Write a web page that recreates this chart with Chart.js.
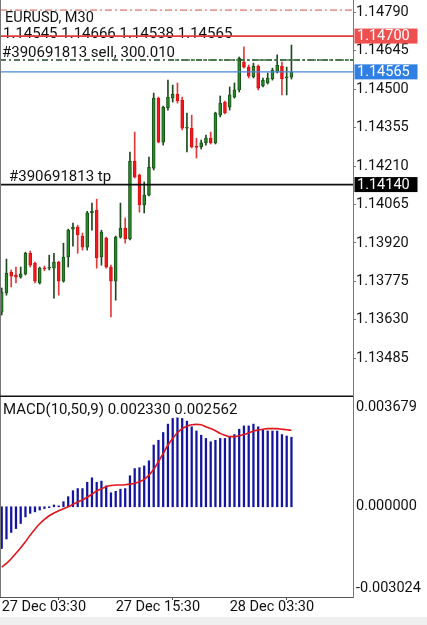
<!DOCTYPE html>
<html><head><meta charset="utf-8">
<script src="https://cdn.jsdelivr.net/npm/chart.js@4.4.1/dist/chart.umd.min.js"></script>
<style>
html,body{margin:0;padding:0;background:#fff;}
#wrap{position:relative;width:427px;height:625px;overflow:hidden;background:#fff;}
#c1{position:absolute;left:0;top:0;}
#c2{position:absolute;left:0;top:397px;}
#strip{position:absolute;left:0;top:617px;width:427px;height:8px;background:#efefef;}
</style></head><body>
<div id="wrap">
<canvas id="c1" width="427" height="397"></canvas>
<canvas id="c2" width="427" height="228"></canvas>
<div id="strip"></div>
</div>
<script>
// ---------- DATA ----------
const symbolTitle = "EURUSD, M30";
const orderText = "#390691813 sell, 300.010";
const tpText = "#390691813 tp";
const macdName = "MACD(10,50,9)";
const tickIndex = [0, 24, 48];
const tickTimes = ["27 Dec 03:30", "27 Dec 15:30", "28 Dec 03:30"];
const priceTicks = [1.14790, 1.14645, 1.14500, 1.14355, 1.14210, 1.14065, 1.13920, 1.13775, 1.13630, 1.13485];
const macdTicks = [0.003679, 0.000000, -0.003024];
// level lines: top dash-dot, stop (red), order open (dash-dot), bid (blue), take profit (black)
const levelValues = [1.14798, 1.14700, 1.14610, 1.14565, 1.14140];

const open = [1.13659,1.13731,1.13810,1.13799,1.13791,1.13803,1.13881,1.13844,1.13769,1.13826,
1.13825,1.13825,1.13848,1.13776,1.13867,1.13972,1.13980,1.13946,1.13904,1.14033,
1.14044,1.13867,1.13938,1.13829,1.13776,1.13942,1.13976,1.13935,1.14229,1.14176,
1.14063,1.14100,1.14202,1.14466,1.14300,1.14429,1.14466,1.14481,1.14459,1.14353,
1.14353,1.14282,1.14282,1.14297,1.14315,1.14297,1.14402,1.14451,1.14432,1.14470,
1.14497,1.14602,1.14583,1.14546,1.14587,1.14512,1.14523,1.14538,1.14564,1.14587,
1.14542,1.14545];
const high = [1.13750,1.13859,1.13818,1.13829,1.13829,1.13885,1.13889,1.13848,1.13829,1.13833,
1.13874,1.13881,1.13851,1.13919,1.13972,1.13995,1.13987,1.13957,1.14039,1.14070,
1.14085,1.13968,1.13942,1.13836,1.13946,1.14070,1.14014,1.14263,1.14338,1.14180,
1.14150,1.14244,1.14485,1.14470,1.14436,1.14534,1.14515,1.14523,1.14470,1.14410,
1.14402,1.14315,1.14308,1.14327,1.14338,1.14413,1.14474,1.14455,1.14508,1.14523,
1.14621,1.14659,1.14591,1.14598,1.14591,1.14542,1.14561,1.14579,1.14629,1.14602,
1.14583,1.14666];
const low = [1.13648,1.13723,1.13754,1.13769,1.13787,1.13799,1.13829,1.13769,1.13765,1.13815,
1.13818,1.13712,1.13723,1.13772,1.13829,1.13908,1.13881,1.13893,1.13893,1.13968,
1.13825,1.13836,1.13825,1.13641,1.13704,1.13938,1.13919,1.13931,1.14165,1.14036,
1.14033,1.14097,1.14195,1.14297,1.14289,1.14421,1.14451,1.14447,1.14346,1.14263,
1.14278,1.14240,1.14274,1.14289,1.14293,1.14293,1.14395,1.14406,1.14421,1.14466,
1.14489,1.14579,1.14542,1.14542,1.14497,1.14508,1.14519,1.14534,1.14561,1.14478,
1.14478,1.14538];
const close = [1.13735,1.13806,1.13795,1.13791,1.13803,1.13881,1.13836,1.13776,1.13825,1.13822,
1.13826,1.13848,1.13776,1.13867,1.13968,1.13980,1.13950,1.13904,1.14033,1.14040,
1.13863,1.13961,1.13829,1.13776,1.13942,1.13976,1.13935,1.14229,1.14168,1.14063,
1.14100,1.14206,1.14466,1.14300,1.14432,1.14470,1.14481,1.14455,1.14353,1.14357,
1.14282,1.14280,1.14297,1.14315,1.14297,1.14410,1.14447,1.14410,1.14478,1.14497,
1.14617,1.14583,1.14549,1.14587,1.14504,1.14534,1.14542,1.14572,1.14591,1.14538,
1.14546,1.14565];
const macdMain = [-0.00140,-0.00108,-0.00086,-0.00073,-0.00056,-0.00034,-0.00022,-0.00017,-0.00011,-0.00006,
-0.00003,0.00006,0.00003,0.00017,0.00034,0.00054,0.00061,0.00061,0.00082,0.00097,
0.00082,0.00086,0.00070,0.00047,0.00052,0.00059,0.00061,0.00104,0.00128,0.00131,
0.00137,0.00154,0.00207,0.00223,0.00249,0.00277,0.00296,0.00298,0.00296,0.00287,
0.00268,0.00254,0.00240,0.00229,0.00218,0.00223,0.00229,0.00229,0.00235,0.00242,
0.00260,0.00271,0.00271,0.00277,0.00268,0.00257,0.00254,0.00254,0.00254,0.00242,
0.00237,0.002330];
const macdSignal = [-0.00202,-0.00190,-0.00174,-0.00156,-0.00137,-0.00117,-0.00095,-0.00075,-0.00057,-0.00042,
-0.00030,-0.00021,-0.00013,-0.00007,0.00000,0.00008,0.00016,0.00023,0.00032,0.00042,
0.00053,0.00060,0.00067,0.00071,0.00073,0.00073,0.00074,0.00076,0.00079,0.00084,
0.00092,0.00106,0.00126,0.00151,0.00179,0.00207,0.00229,0.00248,0.00262,0.00270,
0.00275,0.00276,0.00275,0.00268,0.00262,0.00255,0.00246,0.00240,0.00235,0.00235,
0.00238,0.00242,0.00248,0.00254,0.00257,0.00260,0.00262,0.00262,0.00262,0.00260,
0.00258,0.002562];

// ---------- RANGES ----------
const xMin = -0.36, xMax = 73.96;
const priceMin = 1.13339, priceMax = 1.14836;
const macdMin = -0.003024, macdMax = 0.003679;

const FONT = 'Roboto';
const GREEN = '#2a8a2a', GREEN_EDGE = '#175217', GREEN_WICK = '#1d4a1d';
const RED = '#f2181e', RED_EDGE = '#d81010', RED_WICK = '#e23a3a';

const n = close.length;
const isUp = close.map((c, i) => c >= open[i]);
const bodies = close.map((c, i) => ({x: i, y: [open[i], c]}));
const wicks = close.map((c, i) => ({x: i, y: [low[i], high[i]]}));

const ohlcText = [open[n-1], high[n-1], low[n-1], close[n-1]].map(v => v.toFixed(5)).join(' ');
const macdText = macdName + ' ' + macdMain[n-1].toFixed(6) + ' ' + macdSignal[n-1].toFixed(6);

function hline(ctx, x0, x1, py, color, width, dash) {
  ctx.save();
  ctx.beginPath();
  ctx.strokeStyle = color;
  ctx.lineWidth = width;
  ctx.setLineDash(dash || []);
  ctx.moveTo(x0, py); ctx.lineTo(x1, py);
  ctx.stroke();
  ctx.restore();
}
function priceBox(ctx, a, py, bg, text) {
  ctx.save();
  ctx.fillStyle = bg;
  ctx.fillRect(a.right + 1.5, py - 7.5, 63, 15);
  ctx.fillStyle = '#ffffff';
  ctx.font = '14.5px ' + FONT;
  ctx.textBaseline = 'middle';
  ctx.fillText(text, a.right + 4, py + 0.5);
  ctx.restore();
}

const mainOverlay = {
  id: 'mainOverlay',
  afterDatasetsDraw(chart) {
    const {ctx, chartArea: a, scales: {y}} = chart;
    ctx.save();
    ctx.fillStyle = '#111';
    ctx.textBaseline = 'alphabetic';
    ctx.font = '14.5px ' + FONT;
    ctx.fillText(symbolTitle, 5, 21.5);
    ctx.font = '15px ' + FONT;
    ctx.fillText(ohlcText, 3, 37.5);
    ctx.fillText(orderText, 2, 56.5);
    ctx.fillText(tpText, 9, 180.5);
    ctx.restore();
    const p = levelValues.map(v => y.getPixelForValue(v));
    hline(ctx, a.left, a.right, p[0], '#d8504a', 1, [7, 3, 2, 3]);
    hline(ctx, a.left, a.right, p[1], '#e33b3b', 1.8);
    hline(ctx, a.left, a.right, p[2], '#24452a', 1.6, [6, 3, 2, 3]);
    hline(ctx, 170, a.right, p[2], '#3f7a3f', 1.6, [3, 2, 4, 2]);
    hline(ctx, a.left, a.right, p[3], '#4a87d8', 1.3);
    hline(ctx, a.left, a.right, p[4], '#111111', 1.8);
    priceBox(ctx, a, p[1], '#ee4f4f', levelValues[1].toFixed(5));
    priceBox(ctx, a, p[3], '#2f7fe4', levelValues[3].toFixed(5));
    priceBox(ctx, a, p[4], '#000000', levelValues[4].toFixed(5));
    // pane borders
    ctx.save();
    ctx.strokeStyle = '#777';
    ctx.lineWidth = 1;
    ctx.beginPath(); ctx.moveTo(0.5, 0); ctx.lineTo(0.5, a.bottom); ctx.stroke();
    ctx.strokeStyle = '#111';
    ctx.lineWidth = 1.5;
    ctx.beginPath(); ctx.moveTo(0, a.bottom - 0.75); ctx.lineTo(a.right, a.bottom - 0.75); ctx.stroke();
    ctx.restore();
  }
};

const macdOverlay = {
  id: 'macdOverlay',
  afterDatasetsDraw(chart) {
    const {ctx, chartArea: a, scales: {y}} = chart;
    ctx.save();
    ctx.fillStyle = '#111';
    ctx.textBaseline = 'alphabetic';
    ctx.font = '15px ' + FONT;
    ctx.fillText(macdText, 3, 16.5);
    ctx.font = '14.5px ' + FONT;
    ctx.textBaseline = 'middle';
    macdTicks.forEach(v => {
      let py = y.getPixelForValue(v);
      py = Math.min(Math.max(py, a.top + 10.5), a.bottom - 8.5);
      ctx.fillText(v.toFixed(6), a.right + 3, py);
    });
    ctx.strokeStyle = '#777';
    ctx.lineWidth = 1;
    ctx.beginPath(); ctx.moveTo(0.5, 0); ctx.lineTo(0.5, a.bottom); ctx.stroke();
    ctx.restore();
  }
};

const common = {
  responsive: false,
  animation: false,
  devicePixelRatio: 1,
  layout: {padding: 0},
  plugins: {legend: {display: false}, tooltip: {enabled: false}},
};

new Chart(document.getElementById('c1'), {
  type: 'bar',
  data: {
    datasets: [
      {data: bodies, backgroundColor: isUp.map(u => u ? GREEN : RED),
       borderColor: isUp.map(u => u ? GREEN_EDGE : RED_EDGE), borderWidth: 1, borderSkipped: false,
       barThickness: 3, minBarLength: 1, grouped: false},
      {data: wicks, backgroundColor: isUp.map(u => u ? GREEN_WICK : RED_WICK),
       borderWidth: 0, barThickness: 1, grouped: false}
    ]
  },
  options: Object.assign({}, common, {
    scales: {
      x: {type: 'linear', display: false, min: xMin, max: xMax, offset: false},
      y: {position: 'right', min: priceMin, max: priceMax,
          afterBuildTicks(s) { s.ticks = priceTicks.map(v => ({value: v})); },
          afterFit(s) { s.width = 74; s.paddingTop = 0; s.paddingBottom = 0; },
          grid: {drawOnChartArea: false, drawTicks: true, tickLength: 3, tickColor: '#777'},
          border: {display: true, color: '#777', width: 1},
          ticks: {padding: 0, color: '#111', font: {family: FONT, size: 14.5},
                  callback: v => Number(v).toFixed(5)}}
    }
  }),
  plugins: [mainOverlay]
});

new Chart(document.getElementById('c2'), {
  type: 'bar',
  data: {
    datasets: [
      {type: 'line', data: macdSignal.map((v, i) => ({x: i, y: v})), borderColor: '#e0161b',
       borderWidth: 1.6, pointRadius: 0, cubicInterpolationMode: 'monotone', fill: false},
      {data: macdMain.map((v, i) => ({x: i, y: v})), backgroundColor: '#1414a0',
       borderWidth: 0, barThickness: 1.6, grouped: false}
    ]
  },
  options: Object.assign({}, common, {
    scales: {
      x: {type: 'linear', min: xMin, max: xMax, offset: false,
          afterBuildTicks(s) { s.ticks = tickIndex.map(v => ({value: v})); },
          afterFit(s) { s.height = 28; s.paddingLeft = 0; s.paddingRight = 0; },
          grid: {drawOnChartArea: false, drawTicks: true, tickLength: 3, tickColor: '#555'},
          border: {display: true, color: '#555', width: 1},
          ticks: {align: 'start', autoSkip: false, maxRotation: 0, padding: 0, color: '#111',
                  font: {family: FONT, size: 14.5, lineHeight: 1},
                  callback: v => tickTimes[tickIndex.indexOf(v)] || ''}},
      y: {position: 'right', min: macdMin, max: macdMax,
          afterFit(s) { s.width = 74; s.paddingTop = 0; s.paddingBottom = 0; },
          grid: {display: false},
          border: {display: true, color: '#777', width: 1},
          ticks: {display: false}}
    }
  }),
  plugins: [macdOverlay]
});
</script>
</body></html>
